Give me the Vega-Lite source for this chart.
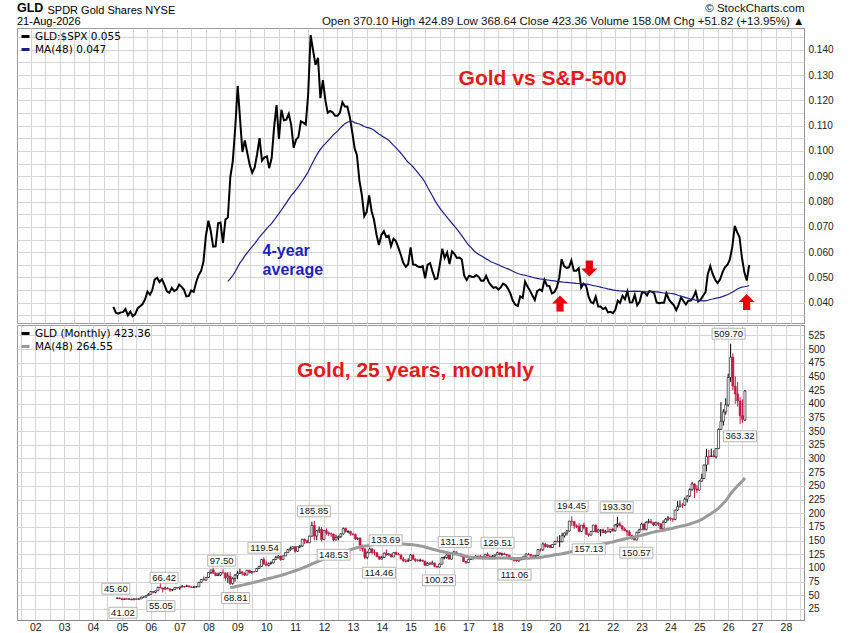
{
  "$schema": "https://vega.github.io/schema/vega-lite/v6.json",
  "background": "white",
  "padding": {"left": 16, "top": 1, "right": 0, "bottom": 0},
  "spacing": 0,
  "config": {
    "font": "Liberation Sans",
    "view": {"stroke": "#9a9a9a"},
    "axis": {"gridColor": "#d6d6d6", "gridWidth": 1, "labelFont": "Liberation Sans", "labelFontSize": 10, "labelColor": "#222", "titleFont": "Liberation Sans", "labelOverlap": false}
  },
  "resolve": {"scale": {"color": "independent"}, "legend": {"color": "independent"}},
  "datasets": {
    "gld": [
      {"date":"2004-11-01","open":44.38,"high":45.45,"low":44.05,"close":45.12,"ratio":0.0384},
      {"date":"2004-12-01","open":45.12,"high":45.60,"low":42.90,"close":43.80,"ratio":0.0361},
      {"date":"2005-01-01","open":43.80,"high":43.90,"low":41.80,"close":42.22,"ratio":0.0357},
      {"date":"2005-02-01","open":42.22,"high":43.90,"low":41.30,"close":43.52,"ratio":0.0362},
      {"date":"2005-03-01","open":43.52,"high":44.50,"low":42.30,"close":42.82,"ratio":0.0363},
      {"date":"2005-04-01","open":42.82,"high":43.90,"low":42.20,"close":43.35,"ratio":0.0375},
      {"date":"2005-05-01","open":43.35,"high":43.40,"low":41.02,"close":41.70,"ratio":0.0350},
      {"date":"2005-06-01","open":41.70,"high":44.20,"low":41.50,"close":43.49,"ratio":0.0365},
      {"date":"2005-07-01","open":43.49,"high":43.80,"low":41.60,"close":42.80,"ratio":0.0347},
      {"date":"2005-08-01","open":42.80,"high":44.20,"low":42.40,"close":43.29,"ratio":0.0355},
      {"date":"2005-09-01","open":43.29,"high":47.40,"low":43.10,"close":46.62,"ratio":0.0379},
      {"date":"2005-10-01","open":46.62,"high":47.60,"low":45.80,"close":46.63,"ratio":0.0386},
      {"date":"2005-11-01","open":46.63,"high":49.60,"low":45.90,"close":49.32,"ratio":0.0395},
      {"date":"2005-12-01","open":49.32,"high":53.90,"low":48.80,"close":51.58,"ratio":0.0413},
      {"date":"2006-01-01","open":51.58,"high":57.20,"low":51.50,"close":56.88,"ratio":0.0444},
      {"date":"2006-02-01","open":56.88,"high":57.50,"low":53.80,"close":55.32,"ratio":0.0432},
      {"date":"2006-03-01","open":55.32,"high":58.40,"low":53.60,"close":58.10,"ratio":0.0449},
      {"date":"2006-04-01","open":58.10,"high":65.60,"low":57.90,"close":64.53,"ratio":0.0492},
      {"date":"2006-05-01","open":64.53,"high":72.20,"low":63.00,"close":63.41,"ratio":0.0499},
      {"date":"2006-06-01","open":63.41,"high":64.00,"low":55.05,"close":61.23,"ratio":0.0482},
      {"date":"2006-07-01","open":61.23,"high":65.60,"low":60.80,"close":62.99,"ratio":0.0493},
      {"date":"2006-08-01","open":62.99,"high":64.80,"low":61.00,"close":61.38,"ratio":0.0471},
      {"date":"2006-09-01","open":61.38,"high":63.00,"low":56.30,"close":59.47,"ratio":0.0445},
      {"date":"2006-10-01","open":59.47,"high":61.30,"low":57.40,"close":60.53,"ratio":0.0439},
      {"date":"2006-11-01","open":60.53,"high":64.80,"low":60.00,"close":64.25,"ratio":0.0459},
      {"date":"2006-12-01","open":64.25,"high":64.90,"low":61.80,"close":63.21,"ratio":0.0446},
      {"date":"2007-01-01","open":63.21,"high":65.50,"low":60.10,"close":64.95,"ratio":0.0452},
      {"date":"2007-02-01","open":64.95,"high":68.90,"low":64.70,"close":66.34,"ratio":0.0472},
      {"date":"2007-03-01","open":66.34,"high":67.00,"low":63.70,"close":65.90,"ratio":0.0464},
      {"date":"2007-04-01","open":65.90,"high":69.40,"low":65.20,"close":67.00,"ratio":0.0452},
      {"date":"2007-05-01","open":67.00,"high":68.00,"low":64.70,"close":65.04,"ratio":0.0425},
      {"date":"2007-06-01","open":65.04,"high":66.50,"low":63.70,"close":64.26,"ratio":0.0427},
      {"date":"2007-07-01","open":64.26,"high":67.00,"low":64.00,"close":65.31,"ratio":0.0449},
      {"date":"2007-08-01","open":65.31,"high":66.60,"low":64.20,"close":65.37,"ratio":0.0443},
      {"date":"2007-09-01","open":65.37,"high":74.10,"low":65.30,"close":73.51,"ratio":0.0481},
      {"date":"2007-10-01","open":73.51,"high":79.20,"low":72.80,"close":78.79,"ratio":0.0509},
      {"date":"2007-11-01","open":78.79,"high":84.30,"low":77.10,"close":77.78,"ratio":0.0525},
      {"date":"2007-12-01","open":77.78,"high":83.50,"low":77.00,"close":82.46,"ratio":0.0562},
      {"date":"2008-01-01","open":82.46,"high":92.30,"low":82.10,"close":91.70,"ratio":0.0665},
      {"date":"2008-02-01","open":91.70,"high":96.70,"low":88.40,"close":96.34,"ratio":0.0724},
      {"date":"2008-03-01","open":96.34,"high":100.40,"low":89.00,"close":90.41,"ratio":0.0684},
      {"date":"2008-04-01","open":90.41,"high":92.20,"low":84.80,"close":86.18,"ratio":0.0622},
      {"date":"2008-05-01","open":86.18,"high":91.90,"low":84.90,"close":87.18,"ratio":0.0623},
      {"date":"2008-06-01","open":87.18,"high":92.00,"low":85.00,"close":91.40,"ratio":0.0714},
      {"date":"2008-07-01","open":91.40,"high":97.50,"low":89.40,"close":90.90,"ratio":0.0717},
      {"date":"2008-08-01","open":90.90,"high":91.40,"low":76.60,"close":81.78,"ratio":0.0637},
      {"date":"2008-09-01","open":81.78,"high":91.90,"low":72.80,"close":85.07,"ratio":0.0729},
      {"date":"2008-10-01","open":85.07,"high":92.30,"low":68.81,"close":71.39,"ratio":0.0737},
      {"date":"2008-11-01","open":71.39,"high":82.80,"low":69.50,"close":80.50,"ratio":0.0898},
      {"date":"2008-12-01","open":80.50,"high":88.40,"low":75.00,"close":86.52,"ratio":0.0958},
      {"date":"2009-01-01","open":86.52,"high":94.60,"low":79.90,"close":90.13,"ratio":0.1091},
      {"date":"2009-02-01","open":90.13,"high":98.40,"low":89.00,"close":92.39,"ratio":0.1257},
      {"date":"2009-03-01","open":92.39,"high":94.50,"low":86.00,"close":90.28,"ratio":0.1132},
      {"date":"2009-04-01","open":90.28,"high":91.70,"low":85.30,"close":86.92,"ratio":0.0996},
      {"date":"2009-05-01","open":86.92,"high":96.20,"low":86.70,"close":95.81,"ratio":0.1042},
      {"date":"2009-06-01","open":95.81,"high":96.60,"low":90.20,"close":91.18,"ratio":0.0992},
      {"date":"2009-07-01","open":91.18,"high":94.20,"low":89.60,"close":93.36,"ratio":0.0945},
      {"date":"2009-08-01","open":93.36,"high":94.70,"low":91.80,"close":93.30,"ratio":0.0914},
      {"date":"2009-09-01","open":93.30,"high":99.90,"low":93.20,"close":98.85,"ratio":0.0935},
      {"date":"2009-10-01","open":98.85,"high":104.10,"low":97.90,"close":102.30,"ratio":0.0987},
      {"date":"2009-11-01","open":102.30,"high":116.50,"low":101.80,"close":115.20,"ratio":0.1051},
      {"date":"2009-12-01","open":115.20,"high":119.54,"low":105.10,"close":107.31,"ratio":0.0962},
      {"date":"2010-01-01","open":107.31,"high":112.40,"low":104.40,"close":104.68,"ratio":0.0975},
      {"date":"2010-02-01","open":104.68,"high":110.10,"low":102.50,"close":108.15,"ratio":0.0979},
      {"date":"2010-03-01","open":108.15,"high":111.90,"low":106.00,"close":108.95,"ratio":0.0932},
      {"date":"2010-04-01","open":108.95,"high":115.90,"low":108.50,"close":115.36,"ratio":0.0972},
      {"date":"2010-05-01","open":115.36,"high":121.90,"low":114.00,"close":118.88,"ratio":0.1091},
      {"date":"2010-06-01","open":118.88,"high":123.30,"low":117.20,"close":121.68,"ratio":0.1181},
      {"date":"2010-07-01","open":121.68,"high":122.50,"low":113.00,"close":115.49,"ratio":0.1048},
      {"date":"2010-08-01","open":115.49,"high":122.60,"low":115.20,"close":121.99,"ratio":0.1163},
      {"date":"2010-09-01","open":121.99,"high":128.30,"low":121.50,"close":127.91,"ratio":0.1121},
      {"date":"2010-10-01","open":127.91,"high":134.90,"low":127.40,"close":133.04,"ratio":0.1124},
      {"date":"2010-11-01","open":133.04,"high":139.20,"low":130.60,"close":135.42,"ratio":0.1147},
      {"date":"2010-12-01","open":135.42,"high":139.10,"low":134.00,"close":138.72,"ratio":0.1103},
      {"date":"2011-01-01","open":138.72,"high":138.80,"low":127.60,"close":130.34,"ratio":0.1013},
      {"date":"2011-02-01","open":130.34,"high":138.90,"low":129.40,"close":138.69,"ratio":0.1045},
      {"date":"2011-03-01","open":138.69,"high":141.40,"low":136.00,"close":139.86,"ratio":0.1055},
      {"date":"2011-04-01","open":139.86,"high":152.90,"low":138.50,"close":152.37,"ratio":0.1117},
      {"date":"2011-05-01","open":152.37,"high":153.60,"low":143.50,"close":149.64,"ratio":0.1112},
      {"date":"2011-06-01","open":149.64,"high":151.70,"low":145.00,"close":145.96,"ratio":0.1105},
      {"date":"2011-07-01","open":145.96,"high":158.80,"low":145.90,"close":158.02,"ratio":0.1223},
      {"date":"2011-08-01","open":158.02,"high":184.60,"low":157.00,"close":177.72,"ratio":0.1458},
      {"date":"2011-09-01","open":177.72,"high":185.85,"low":150.60,"close":158.06,"ratio":0.1397},
      {"date":"2011-10-01","open":158.06,"high":168.90,"low":150.60,"close":167.96,"ratio":0.1340},
      {"date":"2011-11-01","open":167.96,"high":175.60,"low":163.90,"close":170.64,"ratio":0.1368},
      {"date":"2011-12-01","open":170.64,"high":174.60,"low":148.30,"close":151.99,"ratio":0.1209},
      {"date":"2012-01-01","open":151.99,"high":169.00,"low":151.50,"close":168.05,"ratio":0.1280},
      {"date":"2012-02-01","open":168.05,"high":172.20,"low":160.50,"close":164.01,"ratio":0.1201},
      {"date":"2012-03-01","open":164.01,"high":166.40,"low":158.00,"close":162.12,"ratio":0.1151},
      {"date":"2012-04-01","open":162.12,"high":164.60,"low":156.90,"close":161.88,"ratio":0.1158},
      {"date":"2012-05-01","open":161.88,"high":162.40,"low":148.53,"close":151.11,"ratio":0.1153},
      {"date":"2012-06-01","open":151.11,"high":160.80,"low":150.20,"close":155.19,"ratio":0.1139},
      {"date":"2012-07-01","open":155.19,"high":159.00,"low":150.60,"close":157.12,"ratio":0.1139},
      {"date":"2012-08-01","open":157.12,"high":163.00,"low":154.90,"close":162.10,"ratio":0.1152},
      {"date":"2012-09-01","open":162.10,"high":173.70,"low":161.00,"close":171.89,"ratio":0.1193},
      {"date":"2012-10-01","open":171.89,"high":173.60,"low":164.70,"close":166.09,"ratio":0.1176},
      {"date":"2012-11-01","open":166.09,"high":168.80,"low":163.30,"close":166.61,"ratio":0.1176},
      {"date":"2012-12-01","open":166.61,"high":167.90,"low":158.90,"close":162.02,"ratio":0.1136},
      {"date":"2013-01-01","open":162.02,"high":163.80,"low":159.30,"close":161.24,"ratio":0.1076},
      {"date":"2013-02-01","open":161.24,"high":162.90,"low":151.00,"close":152.93,"ratio":0.1010},
      {"date":"2013-03-01","open":152.93,"high":155.50,"low":150.50,"close":154.46,"ratio":0.0984},
      {"date":"2013-04-01","open":154.46,"high":155.60,"low":131.00,"close":141.25,"ratio":0.0884},
      {"date":"2013-05-01","open":141.25,"high":142.40,"low":129.50,"close":134.78,"ratio":0.0827},
      {"date":"2013-06-01","open":134.78,"high":135.40,"low":115.90,"close":119.11,"ratio":0.0742},
      {"date":"2013-07-01","open":119.11,"high":130.20,"low":116.40,"close":127.96,"ratio":0.0759},
      {"date":"2013-08-01","open":127.96,"high":137.40,"low":126.50,"close":134.62,"ratio":0.0824},
      {"date":"2013-09-01","open":134.62,"high":136.60,"low":125.00,"close":128.18,"ratio":0.0762},
      {"date":"2013-10-01","open":128.18,"high":133.70,"low":122.80,"close":127.74,"ratio":0.0727},
      {"date":"2013-11-01","open":127.74,"high":128.70,"low":119.40,"close":120.72,"ratio":0.0669},
      {"date":"2013-12-01","open":120.72,"high":121.90,"low":114.46,"close":116.12,"ratio":0.0628},
      {"date":"2014-01-01","open":116.12,"high":122.20,"low":115.30,"close":119.00,"ratio":0.0668},
      {"date":"2014-02-01","open":119.00,"high":128.10,"low":118.90,"close":127.04,"ratio":0.0683},
      {"date":"2014-03-01","open":127.04,"high":133.69,"low":122.90,"close":123.61,"ratio":0.0660},
      {"date":"2014-04-01","open":123.61,"high":126.80,"low":123.00,"close":125.29,"ratio":0.0665},
      {"date":"2014-05-01","open":125.29,"high":125.60,"low":119.30,"close":120.04,"ratio":0.0624},
      {"date":"2014-06-01","open":120.04,"high":128.20,"low":119.40,"close":128.04,"ratio":0.0653},
      {"date":"2014-07-01","open":128.04,"high":129.90,"low":124.00,"close":124.41,"ratio":0.0644},
      {"date":"2014-08-01","open":124.41,"high":127.90,"low":123.30,"close":123.86,"ratio":0.0618},
      {"date":"2014-09-01","open":123.86,"high":124.00,"low":115.90,"close":116.21,"ratio":0.0589},
      {"date":"2014-10-01","open":116.21,"high":119.80,"low":111.20,"close":112.66,"ratio":0.0558},
      {"date":"2014-11-01","open":112.66,"high":116.70,"low":109.80,"close":112.11,"ratio":0.0542},
      {"date":"2014-12-01","open":112.11,"high":117.70,"low":111.30,"close":113.58,"ratio":0.0552},
      {"date":"2015-01-01","open":113.58,"high":125.20,"low":113.10,"close":123.45,"ratio":0.0619},
      {"date":"2015-02-01","open":123.45,"high":124.30,"low":115.00,"close":115.87,"ratio":0.0551},
      {"date":"2015-03-01","open":115.87,"high":117.60,"low":110.50,"close":113.65,"ratio":0.0550},
      {"date":"2015-04-01","open":113.65,"high":116.60,"low":111.70,"close":113.27,"ratio":0.0543},
      {"date":"2015-05-01","open":113.27,"high":116.90,"low":111.10,"close":114.10,"ratio":0.0541},
      {"date":"2015-06-01","open":114.10,"high":115.20,"low":111.30,"close":112.37,"ratio":0.0545},
      {"date":"2015-07-01","open":112.37,"high":112.80,"low":103.80,"close":104.65,"ratio":0.0497},
      {"date":"2015-08-01","open":104.65,"high":110.60,"low":104.00,"close":108.50,"ratio":0.0550},
      {"date":"2015-09-01","open":108.50,"high":110.50,"low":105.10,"close":106.86,"ratio":0.0557},
      {"date":"2015-10-01","open":106.86,"high":113.00,"low":106.50,"close":109.00,"ratio":0.0524},
      {"date":"2015-11-01","open":109.00,"high":109.50,"low":101.40,"close":102.86,"ratio":0.0494},
      {"date":"2015-12-01","open":102.86,"high":103.40,"low":100.23,"close":101.46,"ratio":0.0496},
      {"date":"2016-01-01","open":101.46,"high":108.00,"low":100.80,"close":106.84,"ratio":0.0551},
      {"date":"2016-02-01","open":106.84,"high":120.40,"low":106.50,"close":118.64,"ratio":0.0614},
      {"date":"2016-03-01","open":118.64,"high":121.30,"low":115.60,"close":118.81,"ratio":0.0577},
      {"date":"2016-04-01","open":118.81,"high":124.50,"low":116.80,"close":123.65,"ratio":0.0599},
      {"date":"2016-05-01","open":123.65,"high":124.50,"low":115.60,"close":116.06,"ratio":0.0553},
      {"date":"2016-06-01","open":116.06,"high":127.30,"low":115.10,"close":126.47,"ratio":0.0603},
      {"date":"2016-07-01","open":126.47,"high":131.15,"low":123.00,"close":128.98,"ratio":0.0593},
      {"date":"2016-08-01","open":128.98,"high":130.80,"low":124.10,"close":125.33,"ratio":0.0577},
      {"date":"2016-09-01","open":125.33,"high":127.20,"low":121.60,"close":125.64,"ratio":0.0579},
      {"date":"2016-10-01","open":125.64,"high":125.90,"low":119.50,"close":121.48,"ratio":0.0571},
      {"date":"2016-11-01","open":121.48,"high":125.60,"low":111.00,"close":111.53,"ratio":0.0507},
      {"date":"2016-12-01","open":111.53,"high":112.20,"low":107.40,"close":109.61,"ratio":0.0490},
      {"date":"2017-01-01","open":109.61,"high":116.70,"low":109.50,"close":115.44,"ratio":0.0507},
      {"date":"2017-02-01","open":115.44,"high":119.80,"low":114.60,"close":119.00,"ratio":0.0503},
      {"date":"2017-03-01","open":119.00,"high":119.60,"low":114.10,"close":118.72,"ratio":0.0502},
      {"date":"2017-04-01","open":118.72,"high":123.40,"low":118.10,"close":121.71,"ratio":0.0510},
      {"date":"2017-05-01","open":121.71,"high":121.90,"low":116.90,"close":121.19,"ratio":0.0502},
      {"date":"2017-06-01","open":121.19,"high":123.90,"low":117.40,"close":118.02,"ratio":0.0487},
      {"date":"2017-07-01","open":118.02,"high":121.10,"low":115.80,"close":120.27,"ratio":0.0487},
      {"date":"2017-08-01","open":120.27,"high":125.20,"low":119.60,"close":125.01,"ratio":0.0506},
      {"date":"2017-09-01","open":125.01,"high":128.30,"low":121.30,"close":121.58,"ratio":0.0483},
      {"date":"2017-10-01","open":121.58,"high":123.40,"low":119.60,"close":120.67,"ratio":0.0469},
      {"date":"2017-11-01","open":120.67,"high":123.50,"low":119.70,"close":121.53,"ratio":0.0459},
      {"date":"2017-12-01","open":121.53,"high":124.00,"low":117.50,"close":123.65,"ratio":0.0462},
      {"date":"2018-01-01","open":123.65,"high":129.51,"low":123.60,"close":127.65,"ratio":0.0452},
      {"date":"2018-02-01","open":127.65,"high":127.90,"low":122.60,"close":125.24,"ratio":0.0461},
      {"date":"2018-03-01","open":125.24,"high":127.90,"low":121.90,"close":125.79,"ratio":0.0476},
      {"date":"2018-04-01","open":125.79,"high":127.90,"low":123.40,"close":124.56,"ratio":0.0470},
      {"date":"2018-05-01","open":124.56,"high":124.90,"low":120.50,"close":123.23,"ratio":0.0456},
      {"date":"2018-06-01","open":123.23,"high":123.80,"low":118.10,"close":118.65,"ratio":0.0436},
      {"date":"2018-07-01","open":118.65,"high":119.70,"low":114.90,"close":115.04,"ratio":0.0408},
      {"date":"2018-08-01","open":115.04,"high":115.90,"low":111.06,"close":113.88,"ratio":0.0392},
      {"date":"2018-09-01","open":113.88,"high":115.20,"low":111.60,"close":112.76,"ratio":0.0387},
      {"date":"2018-10-01","open":112.76,"high":117.00,"low":111.60,"close":115.17,"ratio":0.0425},
      {"date":"2018-11-01","open":115.17,"high":116.90,"low":113.80,"close":115.54,"ratio":0.0419},
      {"date":"2018-12-01","open":115.54,"high":121.80,"low":115.10,"close":121.25,"ratio":0.0484},
      {"date":"2019-01-01","open":121.25,"high":126.10,"low":120.70,"close":125.44,"ratio":0.0464},
      {"date":"2019-02-01","open":125.44,"high":127.50,"low":123.40,"close":124.39,"ratio":0.0447},
      {"date":"2019-03-01","open":124.39,"high":125.10,"low":120.70,"close":122.01,"ratio":0.0430},
      {"date":"2019-04-01","open":122.01,"high":123.00,"low":119.60,"close":120.97,"ratio":0.0411},
      {"date":"2019-05-01","open":120.97,"high":123.00,"low":120.10,"close":122.73,"ratio":0.0446},
      {"date":"2019-06-01","open":122.73,"high":134.70,"low":122.50,"close":133.20,"ratio":0.0453},
      {"date":"2019-07-01","open":133.20,"high":135.70,"low":129.50,"close":133.11,"ratio":0.0447},
      {"date":"2019-08-01","open":133.11,"high":146.70,"low":131.30,"close":143.76,"ratio":0.0491},
      {"date":"2019-09-01","open":143.76,"high":145.80,"low":137.40,"close":138.87,"ratio":0.0467},
      {"date":"2019-10-01","open":138.87,"high":142.70,"low":137.00,"close":141.50,"ratio":0.0466},
      {"date":"2019-11-01","open":141.50,"high":142.00,"low":136.20,"close":137.21,"ratio":0.0437},
      {"date":"2019-12-01","open":137.21,"high":143.40,"low":136.80,"close":142.90,"ratio":0.0442},
      {"date":"2020-01-01","open":142.90,"high":149.60,"low":142.40,"close":148.38,"ratio":0.0460},
      {"date":"2020-02-01","open":148.38,"high":157.40,"low":147.00,"close":147.67,"ratio":0.0500},
      {"date":"2020-03-01","open":147.67,"high":159.90,"low":138.00,"close":147.84,"ratio":0.0572},
      {"date":"2020-04-01","open":147.84,"high":164.40,"low":146.90,"close":158.80,"ratio":0.0545},
      {"date":"2020-05-01","open":158.80,"high":164.70,"low":155.40,"close":163.66,"ratio":0.0538},
      {"date":"2020-06-01","open":163.66,"high":168.90,"low":159.50,"close":167.37,"ratio":0.0540},
      {"date":"2020-07-01","open":167.37,"high":186.00,"low":166.60,"close":185.43,"ratio":0.0567},
      {"date":"2020-08-01","open":185.43,"high":194.45,"low":177.00,"close":184.54,"ratio":0.0527},
      {"date":"2020-09-01","open":184.54,"high":184.80,"low":171.60,"close":177.12,"ratio":0.0527},
      {"date":"2020-10-01","open":177.12,"high":179.70,"low":172.50,"close":175.45,"ratio":0.0537},
      {"date":"2020-11-01","open":175.45,"high":182.00,"low":166.30,"close":166.67,"ratio":0.0460},
      {"date":"2020-12-01","open":166.67,"high":178.40,"low":165.80,"close":178.36,"ratio":0.0475},
      {"date":"2021-01-01","open":178.36,"high":182.60,"low":170.30,"close":173.34,"ratio":0.0467},
      {"date":"2021-02-01","open":173.34,"high":174.60,"low":160.40,"close":161.67,"ratio":0.0424},
      {"date":"2021-03-01","open":161.67,"high":162.90,"low":157.13,"close":159.96,"ratio":0.0403},
      {"date":"2021-04-01","open":159.96,"high":166.80,"low":159.10,"close":166.34,"ratio":0.0398},
      {"date":"2021-05-01","open":166.34,"high":178.60,"low":166.00,"close":178.38,"ratio":0.0424},
      {"date":"2021-06-01","open":178.38,"high":178.70,"low":164.80,"close":165.63,"ratio":0.0385},
      {"date":"2021-07-01","open":165.63,"high":171.60,"low":164.30,"close":169.12,"ratio":0.0385},
      {"date":"2021-08-01","open":169.12,"high":170.40,"low":157.80,"close":169.39,"ratio":0.0375},
      {"date":"2021-09-01","open":169.39,"high":171.90,"low":163.80,"close":164.22,"ratio":0.0381},
      {"date":"2021-10-01","open":164.22,"high":169.60,"low":162.60,"close":166.50,"ratio":0.0362},
      {"date":"2021-11-01","open":166.50,"high":174.90,"low":164.40,"close":166.36,"ratio":0.0364},
      {"date":"2021-12-01","open":166.36,"high":171.20,"low":163.50,"close":170.96,"ratio":0.0359},
      {"date":"2022-01-01","open":170.96,"high":172.70,"low":165.90,"close":168.09,"ratio":0.0372},
      {"date":"2022-02-01","open":168.09,"high":179.90,"low":166.20,"close":178.38,"ratio":0.0408},
      {"date":"2022-03-01","open":178.38,"high":193.30,"low":174.00,"close":180.65,"ratio":0.0399},
      {"date":"2022-04-01","open":180.65,"high":184.40,"low":175.10,"close":176.91,"ratio":0.0428},
      {"date":"2022-05-01","open":176.91,"high":177.40,"low":167.70,"close":171.14,"ratio":0.0414},
      {"date":"2022-06-01","open":171.14,"high":173.90,"low":167.00,"close":168.46,"ratio":0.0445},
      {"date":"2022-07-01","open":168.46,"high":169.10,"low":157.80,"close":165.64,"ratio":0.0401},
      {"date":"2022-08-01","open":165.64,"high":168.90,"low":158.90,"close":159.10,"ratio":0.0402},
      {"date":"2022-09-01","open":159.10,"high":160.60,"low":151.50,"close":154.67,"ratio":0.0431},
      {"date":"2022-10-01","open":154.67,"high":156.90,"low":150.57,"close":150.93,"ratio":0.0390},
      {"date":"2022-11-01","open":150.93,"high":166.00,"low":150.60,"close":164.97,"ratio":0.0404},
      {"date":"2022-12-01","open":164.97,"high":171.60,"low":163.30,"close":169.64,"ratio":0.0442},
      {"date":"2023-01-01","open":169.64,"high":182.70,"low":169.50,"close":179.91,"ratio":0.0441},
      {"date":"2023-02-01","open":179.91,"high":182.20,"low":168.20,"close":170.48,"ratio":0.0429},
      {"date":"2023-03-01","open":170.48,"high":185.20,"low":168.50,"close":183.22,"ratio":0.0446},
      {"date":"2023-04-01","open":183.22,"high":189.60,"low":181.10,"close":184.94,"ratio":0.0444},
      {"date":"2023-05-01","open":184.94,"high":189.40,"low":180.50,"close":183.01,"ratio":0.0438},
      {"date":"2023-06-01","open":183.01,"high":183.50,"low":176.40,"close":178.27,"ratio":0.0401},
      {"date":"2023-07-01","open":178.27,"high":184.50,"low":177.20,"close":182.44,"ratio":0.0398},
      {"date":"2023-08-01","open":182.44,"high":182.60,"low":176.60,"close":180.24,"ratio":0.0400},
      {"date":"2023-09-01","open":180.24,"high":182.00,"low":170.60,"close":171.45,"ratio":0.0400},
      {"date":"2023-10-01","open":171.45,"high":186.80,"low":168.30,"close":183.29,"ratio":0.0437},
      {"date":"2023-11-01","open":183.29,"high":190.90,"low":181.60,"close":189.04,"ratio":0.0414},
      {"date":"2023-12-01","open":189.04,"high":194.80,"low":185.50,"close":191.17,"ratio":0.0401},
      {"date":"2024-01-01","open":191.17,"high":192.50,"low":186.00,"close":189.42,"ratio":0.0391},
      {"date":"2024-02-01","open":189.42,"high":190.30,"low":184.20,"close":188.82,"ratio":0.0371},
      {"date":"2024-03-01","open":188.82,"high":206.30,"low":187.20,"close":205.72,"ratio":0.0392},
      {"date":"2024-04-01","open":205.72,"high":222.00,"low":204.50,"close":211.87,"ratio":0.0421},
      {"date":"2024-05-01","open":211.87,"high":223.10,"low":210.50,"close":214.84,"ratio":0.0407},
      {"date":"2024-06-01","open":214.84,"high":218.80,"low":209.40,"close":214.79,"ratio":0.0393},
      {"date":"2024-07-01","open":214.79,"high":228.70,"low":213.40,"close":225.34,"ratio":0.0408},
      {"date":"2024-08-01","open":225.34,"high":232.70,"low":219.60,"close":231.29,"ratio":0.0409},
      {"date":"2024-09-01","open":231.29,"high":245.30,"low":229.50,"close":243.06,"ratio":0.0422},
      {"date":"2024-10-01","open":243.06,"high":257.40,"low":240.90,"close":253.59,"ratio":0.0444},
      {"date":"2024-11-01","open":253.59,"high":254.30,"low":227.70,"close":244.32,"ratio":0.0405},
      {"date":"2024-12-01","open":244.32,"high":251.20,"low":237.40,"close":242.13,"ratio":0.0412},
      {"date":"2025-01-01","open":242.13,"high":260.20,"low":241.50,"close":258.61,"ratio":0.0428},
      {"date":"2025-02-01","open":258.61,"high":272.20,"low":257.50,"close":263.42,"ratio":0.0442},
      {"date":"2025-03-01","open":263.42,"high":288.40,"low":262.30,"close":288.14,"ratio":0.0513},
      {"date":"2025-04-01","open":288.14,"high":317.60,"low":276.40,"close":303.77,"ratio":0.0545},
      {"date":"2025-05-01","open":303.77,"high":315.50,"low":288.70,"close":303.60,"ratio":0.0514},
      {"date":"2025-06-01","open":303.60,"high":317.90,"low":303.10,"close":304.83,"ratio":0.0491},
      {"date":"2025-07-01","open":304.83,"high":315.30,"low":302.60,"close":302.96,"ratio":0.0478},
      {"date":"2025-08-01","open":302.96,"high":319.00,"low":300.00,"close":318.07,"ratio":0.0492},
      {"date":"2025-09-01","open":318.07,"high":355.00,"low":317.00,"close":353.00,"ratio":0.0520},
      {"date":"2025-10-01","open":353.00,"high":403.00,"low":352.00,"close":368.00,"ratio":0.0540},
      {"date":"2025-11-01","open":368.00,"high":390.00,"low":360.00,"close":385.00,"ratio":0.0550},
      {"date":"2025-12-01","open":385.00,"high":410.00,"low":380.00,"close":398.00,"ratio":0.0570},
      {"date":"2026-01-01","open":398.00,"high":455.00,"low":395.00,"close":448.00,"ratio":0.0620},
      {"date":"2026-02-01","open":448.00,"high":509.70,"low":440.00,"close":485.00,"ratio":0.0704},
      {"date":"2026-03-01","open":485.00,"high":492.00,"low":425.00,"close":432.00,"ratio":0.0680},
      {"date":"2026-04-01","open":432.00,"high":450.00,"low":400.00,"close":418.00,"ratio":0.0660},
      {"date":"2026-05-01","open":418.00,"high":440.00,"low":395.00,"close":405.00,"ratio":0.0580},
      {"date":"2026-06-01","open":405.00,"high":412.00,"low":363.32,"close":378.00,"ratio":0.0520},
      {"date":"2026-07-01","open":378.00,"high":408.00,"low":365.00,"close":371.54,"ratio":0.0488},
      {"date":"2026-08-01","open":370.10,"high":424.89,"low":368.64,"close":423.36,"ratio":0.0550}
    ],
    "topTitle": [{"date":"2019-07-08","ratio":0.1285,"text":"Gold vs S&P-500"}],
    "maNote": [
      {"date":"2009-12-09","ratio":0.0604,"text":"4-year"},
      {"date":"2009-12-09","ratio":0.0529,"text":"average"}
    ],
    "arrows": [
      {"date":"2020-02-10","ratio":0.0397,"dir":"up"},
      {"date":"2021-02-10","ratio":0.0535,"dir":"down"},
      {"date":"2026-06-29","ratio":0.0403,"dir":"up"}
    ],
    "bottomTitle": [{"date":"2015-03-02","price":459.8,"text":"Gold, 25 years, monthly"}],
    "extremes": [
      {"date":"2004-10-15","price":62.0,"label":"45.60"},
      {"date":"2005-01-14","price":18.1,"label":"41.02"},
      {"date":"2006-06-18","price":82.1,"label":"66.42"},
      {"date":"2006-05-08","price":30.4,"label":"55.05"},
      {"date":"2008-06-16","price":113.2,"label":"97.50"},
      {"date":"2008-12-08","price":45.0,"label":"68.81"},
      {"date":"2009-12-09","price":136.9,"label":"119.54"},
      {"date":"2011-08-26","price":203.4,"label":"185.85"},
      {"date":"2012-05-02","price":124.1,"label":"148.53"},
      {"date":"2014-02-19","price":150.4,"label":"133.69"},
      {"date":"2013-11-27","price":91.2,"label":"114.46"},
      {"date":"2015-12-25","price":77.3,"label":"100.23"},
      {"date":"2016-07-12","price":147.3,"label":"131.15"},
      {"date":"2018-01-05","price":146.0,"label":"129.51"},
      {"date":"2018-08-08","price":87.6,"label":"111.06"},
      {"date":"2020-07-30","price":212.6,"label":"194.45"},
      {"date":"2021-03-04","price":134.0,"label":"157.13"},
      {"date":"2022-02-20","price":210.8,"label":"193.30"},
      {"date":"2022-10-27","price":127.8,"label":"150.57"},
      {"date":"2026-01-06","price":528.0,"label":"509.70"},
      {"date":"2026-05-31","price":340.5,"label":"363.32"}
    ]
  },
  "vconcat": [
    {
      "width": 787,
      "height": 295,
      "title": {"text": "GLD", "subtitle": "21-Aug-2026", "anchor": "start", "frame": "group", "offset": -24, "fontSize": 12.5, "fontWeight": "bold", "color": "#000", "subtitleFontSize": 11, "subtitleColor": "#000", "subtitlePadding": 1.5},
      "layer": [
        {
          "data": {"name": "gld"},
          "mark": {"type": "line", "strokeWidth": 2, "color": "#000"},
          "encoding": {
            "x": {
              "field": "date", "type": "temporal",
              "scale": {"type": "utc", "domain": [{"year": 2001, "month": 7, "date": 16, "utc": true}, {"year": 2028, "month": 6, "date": 15, "utc": true}]},
              "axis": {
                "orient": "top", "labels": false, "ticks": false, "domain": false, "grid": true,
                "tickCount": {"interval": "month", "step": 6},
                "title": ["© StockCharts.com", "Open 370.10  High 424.89  Low 368.64  Close 423.36  Volume 158.0M  Chg +51.82 (+13.95%) ▲"],
                "titleAnchor": "end", "titleAlign": "right", "titleFontSize": 11.5, "titleFontWeight": "normal", "titleColor": "#111", "titlePadding": 1.5, "titleLineHeight": 13
              }
            },
            "y": {
              "field": "ratio", "type": "quantitative",
              "scale": {"domain": [0.032, 0.1486], "nice": false, "zero": false},
              "axis": {
                "orient": "right", "tickCount": 200,
                "values": [0.035, 0.04, 0.045, 0.05, 0.055, 0.06, 0.065, 0.07, 0.075, 0.08, 0.085, 0.09, 0.095, 0.1, 0.105, 0.11, 0.115, 0.12, 0.125, 0.13, 0.135, 0.14, 0.145],
                "labelExpr": "round(datum.value * 1000) % 10 == 0 ? format(datum.value, '.3f') : ''",
                "labelOverlap": false, "ticks": false, "labelPadding": 4, "grid": true,
                "domainColor": "#888", "domainDash": [1, 2],
                "title": "SPDR Gold Shares NYSE", "titleAngle": 0, "titleX": -757, "titleY": -18,
                "titleAlign": "left", "titleBaseline": "middle", "titleFontSize": 11, "titleFontWeight": "normal", "titleColor": "#000"
              }
            },
            "color": {
              "datum": "GLD:$SPX 0.055",
              "scale": {"domain": ["GLD:$SPX 0.055", "MA(48) 0.047"], "range": ["#000000", "#1c1c8a"]},
              "legend": {"orient": "top-left", "title": null, "offset": 3, "padding": 0, "labelFont": "DejaVu Sans", "labelFontSize": 10.5, "symbolType": "stroke", "symbolStrokeWidth": 3, "symbolSize": 64, "rowPadding": 0}
            }
          }
        },
        {
          "data": {"name": "gld"},
          "transform": [
            {"window": [{"op": "mean", "field": "ratio", "as": "ma"}, {"op": "row_number", "as": "n"}], "sort": [{"field": "date"}], "frame": [-47, 0]},
            {"filter": "datum.n >= 48"}
          ],
          "mark": {"type": "line", "strokeWidth": 1.2},
          "encoding": {
            "x": {"field": "date", "type": "temporal", "scale": {"type": "utc", "domain": [{"year": 2001, "month": 7, "date": 16, "utc": true}, {"year": 2028, "month": 6, "date": 15, "utc": true}]}},
            "y": {"field": "ma", "type": "quantitative", "scale": {"domain": [0.032, 0.1486], "nice": false, "zero": false}},
            "color": {"datum": "MA(48) 0.047"}
          }
        },
        {
          "data": {"name": "topTitle"},
          "mark": {"type": "text", "fontSize": 21, "fontWeight": "bold", "color": "#e31a1c", "align": "center", "baseline": "middle"},
          "encoding": {
            "x": {"field": "date", "type": "temporal", "scale": {"type": "utc", "domain": [{"year": 2001, "month": 7, "date": 16, "utc": true}, {"year": 2028, "month": 6, "date": 15, "utc": true}]}},
            "y": {"field": "ratio", "type": "quantitative", "scale": {"domain": [0.032, 0.1486], "nice": false, "zero": false}},
            "text": {"field": "text"}
          }
        },
        {
          "data": {"name": "maNote"},
          "mark": {"type": "text", "fontSize": 16, "fontWeight": "bold", "color": "#1f1fb8", "align": "left", "baseline": "middle"},
          "encoding": {
            "x": {"field": "date", "type": "temporal", "scale": {"type": "utc", "domain": [{"year": 2001, "month": 7, "date": 16, "utc": true}, {"year": 2028, "month": 6, "date": 15, "utc": true}]}},
            "y": {"field": "ratio", "type": "quantitative", "scale": {"domain": [0.032, 0.1486], "nice": false, "zero": false}},
            "text": {"field": "text"}
          }
        },
        {
          "data": {"name": "arrows"},
          "transform": [{"filter": "datum.dir == 'up'"}],
          "mark": {"type": "point", "filled": true, "opacity": 1, "color": "#e8000b", "size": 256, "shape": "M0,-1L1,0L0.45,0L0.45,1L-0.45,1L-0.45,0L-1,0Z"},
          "encoding": {
            "x": {"field": "date", "type": "temporal", "scale": {"type": "utc", "domain": [{"year": 2001, "month": 7, "date": 16, "utc": true}, {"year": 2028, "month": 6, "date": 15, "utc": true}]}},
            "y": {"field": "ratio", "type": "quantitative", "scale": {"domain": [0.032, 0.1486], "nice": false, "zero": false}}
          }
        },
        {
          "data": {"name": "arrows"},
          "transform": [{"filter": "datum.dir == 'down'"}],
          "mark": {"type": "point", "filled": true, "opacity": 1, "color": "#e8000b", "size": 256, "shape": "M0,1L1,0L0.45,0L0.45,-1L-0.45,-1L-0.45,0L-1,0Z"},
          "encoding": {
            "x": {"field": "date", "type": "temporal", "scale": {"type": "utc", "domain": [{"year": 2001, "month": 7, "date": 16, "utc": true}, {"year": 2028, "month": 6, "date": 15, "utc": true}]}},
            "y": {"field": "ratio", "type": "quantitative", "scale": {"domain": [0.032, 0.1486], "nice": false, "zero": false}}
          }
        }
      ]
    },
    {
      "width": 787,
      "height": 295,
      "layer": [
        {
          "data": {"name": "gld"},
          "mark": {"type": "rule", "strokeWidth": 1},
          "encoding": {
            "x": {
              "field": "date", "type": "temporal",
              "scale": {"type": "utc", "domain": [{"year": 2001, "month": 7, "date": 16, "utc": true}, {"year": 2028, "month": 6, "date": 15, "utc": true}]},
              "axis": {
                "orient": "bottom", "title": null, "ticks": false, "grid": true, "domainColor": "#888",
                "tickCount": {"interval": "month", "step": 6},
                "labelExpr": "utcFormat(datum.value, '%m') == '01' ? utcFormat(datum.value, '%y') : ''",
                "labelOverlap": false, "labelFlush": false, "labelPadding": 2, "labelFontSize": 10.5
              }
            },
            "y": {
              "field": "low", "type": "quantitative",
              "scale": {"domain": [4.8, 543.9], "nice": false, "zero": false},
              "axis": {
                "orient": "right", "title": null, "tickCount": 200,
                "values": [25, 50, 75, 100, 125, 150, 175, 200, 225, 250, 275, 300, 325, 350, 375, 400, 425, 450, 475, 500, 525],
                "format": "d", "ticks": false, "labelPadding": 4, "grid": true, "labelOverlap": false,
                "domainColor": "#888", "domainDash": [1, 2]
              }
            },
            "y2": {"field": "high"},
            "color": {"condition": {"test": "datum.close >= datum.open", "value": "#000000"}, "value": "#c41845"}
          }
        },
        {
          "data": {"name": "gld"},
          "mark": {"type": "bar", "width": 2, "strokeWidth": 0.6},
          "encoding": {
            "x": {"field": "date", "type": "temporal", "scale": {"type": "utc", "domain": [{"year": 2001, "month": 7, "date": 16, "utc": true}, {"year": 2028, "month": 6, "date": 15, "utc": true}]}},
            "y": {"field": "open", "type": "quantitative", "scale": {"domain": [4.8, 543.9], "nice": false, "zero": false}},
            "y2": {"field": "close"},
            "fill": {"condition": {"test": "datum.close >= datum.open", "value": "#ffffff"}, "value": "#c41845"},
            "stroke": {"condition": {"test": "datum.close >= datum.open", "value": "#000000"}, "value": "#c41845"}
          }
        },
        {
          "data": {"name": "gld"},
          "transform": [
            {"window": [{"op": "mean", "field": "close", "as": "ma2"}, {"op": "row_number", "as": "n2"}], "sort": [{"field": "date"}], "frame": [-47, 0]},
            {"filter": "datum.n2 >= 48"}
          ],
          "mark": {"type": "line", "strokeWidth": 3},
          "encoding": {
            "x": {"field": "date", "type": "temporal", "scale": {"type": "utc", "domain": [{"year": 2001, "month": 7, "date": 16, "utc": true}, {"year": 2028, "month": 6, "date": 15, "utc": true}]}},
            "y": {"field": "ma2", "type": "quantitative", "scale": {"domain": [4.8, 543.9], "nice": false, "zero": false}},
            "color": {
              "datum": "MA(48) 264.55",
              "scale": {"domain": ["GLD (Monthly) 423.36", "MA(48) 264.55"], "range": ["#000000", "#9a9a9a"]},
              "legend": {"orient": "top-left", "title": null, "offset": 3, "padding": 0, "labelFont": "DejaVu Sans", "labelFontSize": 10.5, "symbolType": "stroke", "symbolStrokeWidth": 3, "symbolSize": 64, "rowPadding": 0}
            }
          }
        },
        {
          "data": {"name": "extremes"},
          "transform": [{"filter": "length(datum.label) >= 6"}],
          "mark": {"type": "point", "filled": true, "fill": "#ffffff", "stroke": "#b5b5b5", "strokeWidth": 1, "opacity": 1, "size": 1089, "shape": "M-1,-0.33L1,-0.33L1,0.33L-1,0.33Z"},
          "encoding": {
            "x": {"field": "date", "type": "temporal", "scale": {"type": "utc", "domain": [{"year": 2001, "month": 7, "date": 16, "utc": true}, {"year": 2028, "month": 6, "date": 15, "utc": true}]}},
            "y": {"field": "price", "type": "quantitative", "scale": {"domain": [4.8, 543.9], "nice": false, "zero": false}}
          }
        },
        {
          "data": {"name": "extremes"},
          "transform": [{"filter": "length(datum.label) < 6"}],
          "mark": {"type": "point", "filled": true, "fill": "#ffffff", "stroke": "#b5b5b5", "strokeWidth": 1, "opacity": 1, "size": 784, "shape": "M-1,-0.39L1,-0.39L1,0.39L-1,0.39Z"},
          "encoding": {
            "x": {"field": "date", "type": "temporal", "scale": {"type": "utc", "domain": [{"year": 2001, "month": 7, "date": 16, "utc": true}, {"year": 2028, "month": 6, "date": 15, "utc": true}]}},
            "y": {"field": "price", "type": "quantitative", "scale": {"domain": [4.8, 543.9], "nice": false, "zero": false}}
          }
        },
        {
          "data": {"name": "extremes"},
          "mark": {"type": "text", "fontSize": 9.5, "color": "#111", "align": "center", "baseline": "middle"},
          "encoding": {
            "x": {"field": "date", "type": "temporal", "scale": {"type": "utc", "domain": [{"year": 2001, "month": 7, "date": 16, "utc": true}, {"year": 2028, "month": 6, "date": 15, "utc": true}]}},
            "y": {"field": "price", "type": "quantitative", "scale": {"domain": [4.8, 543.9], "nice": false, "zero": false}},
            "text": {"field": "label"}
          }
        },
        {
          "data": {"name": "bottomTitle"},
          "mark": {"type": "text", "fontSize": 21, "fontWeight": "bold", "color": "#e31a1c", "align": "center", "baseline": "middle"},
          "encoding": {
            "x": {"field": "date", "type": "temporal", "scale": {"type": "utc", "domain": [{"year": 2001, "month": 7, "date": 16, "utc": true}, {"year": 2028, "month": 6, "date": 15, "utc": true}]}},
            "y": {"field": "price", "type": "quantitative", "scale": {"domain": [4.8, 543.9], "nice": false, "zero": false}},
            "text": {"field": "text"}
          }
        }
      ]
    }
  ]
}
